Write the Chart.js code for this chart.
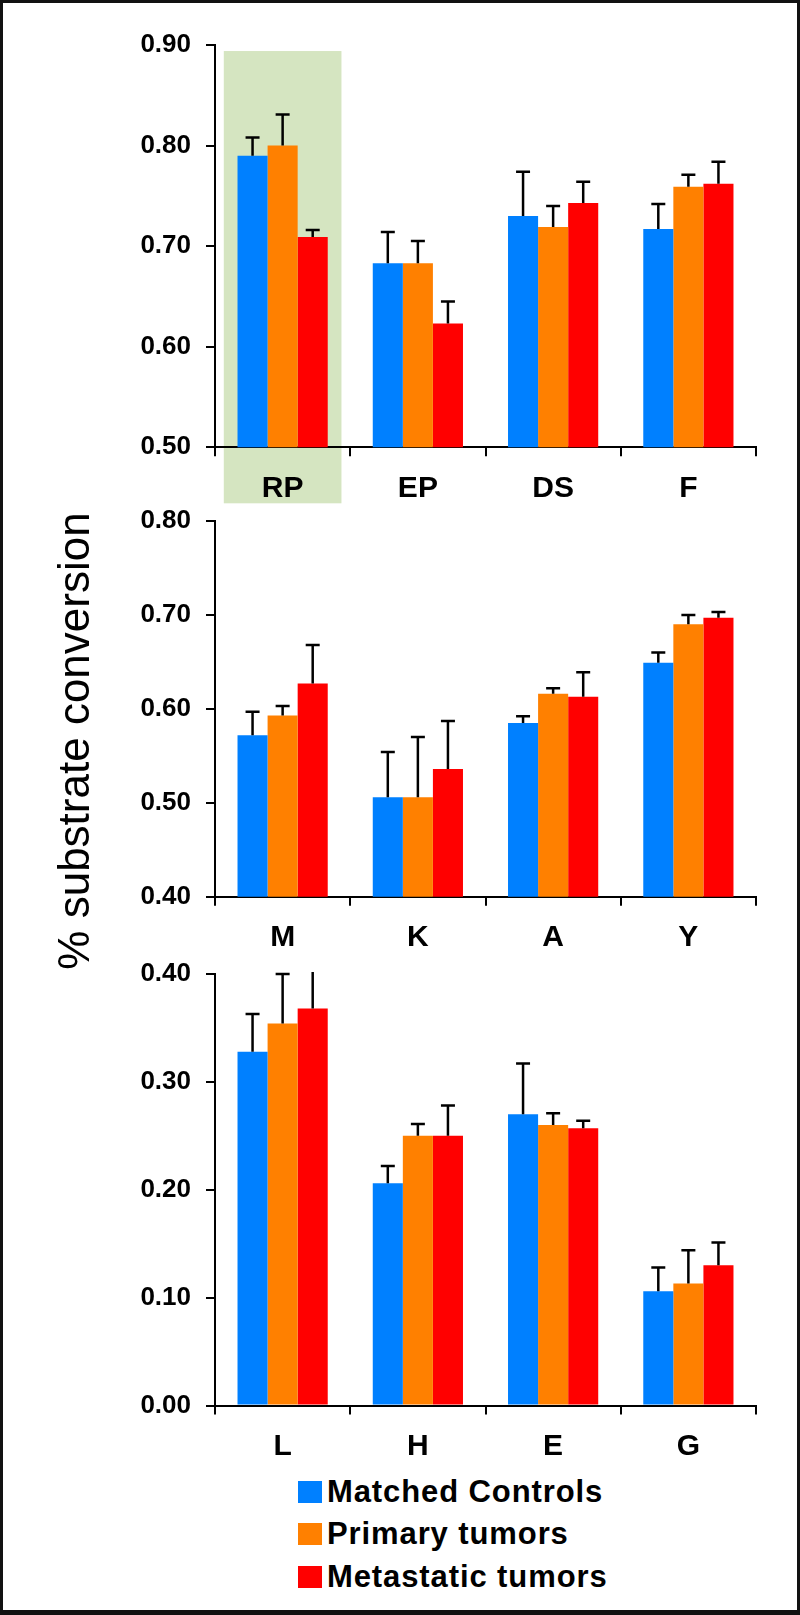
<!DOCTYPE html>
<html>
<head>
<meta charset="utf-8">
<script src="https://cdn.jsdelivr.net/npm/chart.js@4.4.0/dist/chart.umd.min.js"></script>
<style>
  html, body { margin: 0; padding: 0; background: #fff; }
  #page { position: relative; width: 800px; height: 1615px; overflow: hidden; font-family: "Liberation Sans", Arial, sans-serif; }
  #frame { position: absolute; left: 0; top: 0; width: 800px; height: 1615px; box-sizing: border-box;
           border-style: solid; border-color: #111; border-width: 3px 3px 5px 3px; pointer-events: none; }
  canvas { position: absolute; left: 0; }
  #ytitle { position: absolute; left: 74px; top: 741px; white-space: nowrap; font-size: 44px; line-height: 44px;
            color: #000; transform: translate(-50%, -50%) rotate(-90deg); }
  .leg-box { position: absolute; width: 24px; height: 22px; }
  .leg-text { position: absolute; font-weight: bold; font-size: 31px; line-height: 30px; letter-spacing: 0.9px;
              color: #000; white-space: nowrap; }
</style>
</head>
<body>
<div id="page">
  <canvas id="chartTop" width="800" height="510" style="top:0px"></canvas>
  <canvas id="chartMid" width="800" height="470" style="top:480px"></canvas>
  <canvas id="chartBot" width="800" height="536" style="top:930px"></canvas>
  <div id="ytitle">% substrate conversion</div>
  <div id="legend"></div>
  <div id="frame"></div>
</div>
<script>
// Series
const seriesNames = ['Matched Controls', 'Primary tumors', 'Metastatic tumors'];
const seriesColors = ['#0080FF', '#FF8000', '#FF0000'];

// Top panel
const catsTop = ['RP', 'EP', 'DS', 'F'];
const controlsTop = [0.790, 0.683, 0.730, 0.717];
const primaryTop = [0.800, 0.683, 0.719, 0.759];
const metaTop = [0.709, 0.623, 0.743, 0.762];
const controlsTopErr = [0.018, 0.031, 0.044, 0.025];
const primaryTopErr = [0.031, 0.022, 0.021, 0.012];
const metaTopErr = [0.007, 0.022, 0.021, 0.022];
const rangeTop = [0.5, 0.9];

// Middle panel
const catsMid = ['M', 'K', 'A', 'Y'];
const controlsMid = [0.572, 0.506, 0.585, 0.649];
const primaryMid = [0.593, 0.506, 0.616, 0.690];
const metaMid = [0.627, 0.536, 0.613, 0.697];
const controlsMidErr = [0.025, 0.048, 0.007, 0.011];
const primaryMidErr = [0.010, 0.064, 0.006, 0.010];
const metaMidErr = [0.041, 0.051, 0.026, 0.006];
const rangeMid = [0.4, 0.8];

// Bottom panel
const catsBot = ['L', 'H', 'E', 'G'];
const controlsBot = [0.328, 0.206, 0.270, 0.106];
const primaryBot = [0.354, 0.250, 0.260, 0.113];
const metaBot = [0.368, 0.250, 0.257, 0.130];
const controlsBotErr = [0.035, 0.016, 0.047, 0.022];
const primaryBotErr = [0.046, 0.011, 0.011, 0.031];
const metaBotErr = [0.060, 0.028, 0.007, 0.021];
const rangeBot = [0.0, 0.4];

const tickStep = 0.1;
const fontFamily = '"Liberation Sans", Arial, sans-serif';

// upward-only error bars with a cap
const errorBars = {
    id: 'errorBars',
    afterDatasetsDraw(chart) {
        const ctx = chart.ctx;
        const y = chart.scales.y;
        const area = chart.chartArea;
        ctx.save();
        ctx.beginPath();
        ctx.rect(area.left, area.top - 2, area.right - area.left, area.bottom - area.top + 2);
        ctx.clip();
        ctx.strokeStyle = '#000';
        ctx.lineWidth = 2.5;
        chart.data.datasets.forEach((ds, i) => {
            chart.getDatasetMeta(i).data.forEach((bar, j) => {
                const top = y.getPixelForValue(ds.data[j] + ds.errors[j]);
                ctx.beginPath();
                ctx.moveTo(bar.x, bar.y);
                ctx.lineTo(bar.x, top);
                ctx.moveTo(bar.x - 7, top);
                ctx.lineTo(bar.x + 7, top);
                ctx.stroke();
            });
        });
        ctx.restore();
    }
};

// green box behind one category
const highlight = {
    id: 'highlight',
    beforeDraw(chart, args, opts) {
        if (opts.index == null) return;
        const x = chart.scales.x, y = chart.scales.y;
        const half = (x.width / chart.data.labels.length) * opts.widthFrac / 2;
        const cx = x.getPixelForValue(opts.index);
        const top = y.getPixelForValue(opts.top);
        const bottom = chart.chartArea.bottom + opts.below;
        const ctx = chart.ctx;
        ctx.save();
        ctx.fillStyle = opts.color;
        ctx.fillRect(cx - half, top, half * 2, bottom - top);
        ctx.restore();
    }
};

function panelConfig(labels, values, errors, range, padTop, xHeight, hl) {
    const datasets = values.map((v, i) => ({
        label: seriesNames[i],
        data: v,
        errors: errors[i],
        backgroundColor: seriesColors[i],
        borderWidth: 0,
        barPercentage: 1,
        categoryPercentage: 0.667
    }));
    return {
        type: 'bar',
        data: { labels: labels, datasets: datasets },
        plugins: [highlight, errorBars],
        options: {
            responsive: false,
            animation: false,
            layout: { padding: { top: padTop, right: 44, left: 0, bottom: 0 } },
            plugins: {
                legend: { display: false },
                tooltip: { enabled: false },
                highlight: hl || {}
            },
            scales: {
                x: {
                    grid: { offset: true, drawOnChartArea: false, drawTicks: true, tickLength: 9, color: '#000', lineWidth: 2 },
                    border: { display: true, color: '#000', width: 2 },
                    ticks: { color: '#000', padding: 14, font: { family: fontFamily, size: 30, weight: 'bold' } },
                    afterFit: s => { s.height = xHeight; s.paddingLeft = 0; s.paddingRight = 0; }
                },
                y: {
                    min: range[0],
                    max: range[1],
                    grid: { drawOnChartArea: false, drawTicks: true, tickLength: 9, color: '#000', lineWidth: 2 },
                    border: { display: true, color: '#000', width: 2 },
                    ticks: {
                        stepSize: tickStep,
                        color: '#000',
                        padding: 15,
                        font: { family: fontFamily, size: 26, weight: 'bold' },
                        callback: v => v.toFixed(2)
                    },
                    afterFit: s => { s.width = 215; s.paddingTop = 0; s.paddingBottom = 0; }
                }
            }
        }
    };
}

new Chart(document.getElementById('chartTop'), panelConfig(
    catsTop, [controlsTop, primaryTop, metaTop], [controlsTopErr, primaryTopErr, metaTopErr],
    rangeTop, 45, 62.7, { index: 0, top: 0.894, below: 56, widthFrac: 0.87, color: '#D5E5C1' }));

new Chart(document.getElementById('chartMid'), panelConfig(
    catsMid, [controlsMid, primaryMid, metaMid], [controlsMidErr, primaryMidErr, metaMidErr],
    rangeMid, 41, 53.3));

new Chart(document.getElementById('chartBot'), panelConfig(
    catsBot, [controlsBot, primaryBot, metaBot], [controlsBotErr, primaryBotErr, metaBotErr],
    rangeBot, 44, 60.5));

// legend, stacked
const legend = document.getElementById('legend');
seriesNames.forEach((name, i) => {
    const top = 1481 + i * 42.3;
    const box = document.createElement('div');
    box.className = 'leg-box';
    box.style.left = '298px';
    box.style.top = top + 'px';
    box.style.background = seriesColors[i];
    legend.appendChild(box);
    const txt = document.createElement('div');
    txt.className = 'leg-text';
    txt.style.left = '327px';
    txt.style.top = (top - 4) + 'px';
    txt.textContent = name;
    legend.appendChild(txt);
});
</script>
</body>
</html>
